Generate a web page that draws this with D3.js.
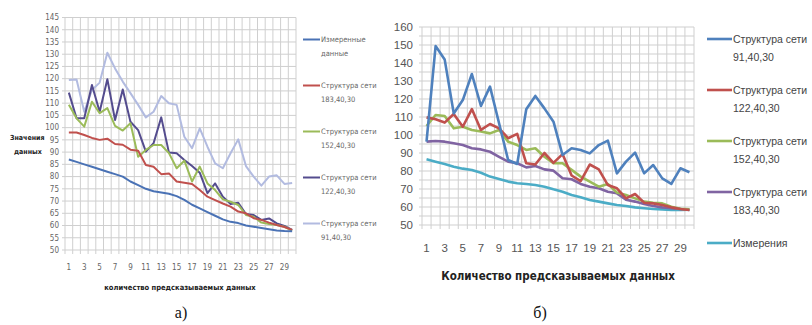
<!DOCTYPE html>
<html>
<head>
<meta charset="utf-8">
<script src="https://cdn.jsdelivr.net/npm/d3@7"></script>
<style>
  body { margin: 0; background: #fff; }
  svg { display: block; }
</style>
</head>
<body>
<svg id="chart" width="812" height="325"></svg>
<script>
// ---- data ----
const categories = [1,2,3,4,5,6,7,8,9,10,11,12,13,14,15,16,17,18,19,20,21,22,23,24,25,26,27,28,29,30];

// chart a)
const aMeasured = [87,86,85,84,83,82,81,80,78,76.5,75,74,73.5,73,72,70.5,68.5,67,65.5,64,62.5,61.5,61,60,59.5,59,58.5,58,57.8,57.7];
const a183 = [98,98,97,95.8,95,95.5,93.3,93,91,90.6,84.7,84,81,81.3,78,77.5,77,74.5,71.8,70.4,69,67.7,65.7,65,63,62.3,61.2,60.2,59.4,58.2];
const a152 = [109.3,103.8,100.4,110.6,105.9,108,100.7,98.8,101.8,88.1,90.9,92.9,92.9,89.6,83.4,86.5,78,84.1,77.2,74.5,70.7,69.7,68.4,64.3,63.6,61.2,60.6,60.2,59.5,57.9];
const a122 = [114.3,103.8,103.8,117.4,106.5,119.8,103.1,115.6,102.4,99,90.2,93.6,104.2,89.8,89.5,86.8,84.3,81.6,73.2,77.2,71.8,68.8,69.3,64.7,64.3,62.3,62.9,60.9,59.8,58.2];
const a91 = [119.5,119.7,106.5,115.4,118.4,130.6,124.2,118.8,114.1,109.3,104.2,106.5,112.9,110,109.3,96.3,91.6,99.7,92.2,85.4,83.4,89.5,95.2,84.3,80,76.3,80,80.5,77,77.4];
const aYTicks = [50,55,60,65,70,75,80,85,90,95,100,105,110,115,120,125,130,135,140,145];

// chart б)
const b91 = [96.3,149.4,142,112,119.4,133.9,116.1,126.9,106.5,86.1,83.9,114.3,121.7,114.8,107.4,88.9,92.6,91.7,89.8,94.4,96.9,78.7,85.2,90.2,78.7,83.3,75.9,72.8,81.5,79.3];
const b122 = [109.8,108.7,106.9,111.7,104.6,114.4,102.8,106.1,103.7,98.2,100.6,84.3,83.6,90,84.5,89.4,77.5,74.4,83.6,80.9,72.2,70.4,64.8,67.2,62.4,62,61.1,59.8,58.9,58.3];
const b152 = [105,111.1,110.6,103.7,104.6,102.8,101.9,100.9,102.8,96.3,94.4,91.7,92.6,87.9,84.3,84.3,80.6,76.9,74.1,71.3,72.8,68,66.7,64.8,63,62.4,62,60.2,59,58.7];
const b183 = [96.3,96.7,96.3,95.4,94.4,92.6,92,90.7,87.9,85.2,84.3,82,82.8,80.9,80.2,76,75.4,72.8,71.3,70.4,68.5,67.6,64,63,61.7,60.6,59.8,59.3,58.9,58.3];
const bMeasured = [86.5,85.2,83.9,82.4,81.3,80.6,79,76.9,75.6,74.1,73.2,72.8,72.2,71.3,69.8,68.5,66.7,65.4,63.9,63,62,61.1,60.6,59.8,59.3,58.9,58.7,58.3,58.3,58.5];
const bYTicks = [50,60,70,80,90,100,110,120,130,140,150,160];
const bYGrid = [55,65,75,85,95,105,115,125,135,145,155];

const xTickLabels = [1,3,5,7,9,11,13,15,17,19,21,23,25,27,29];

const svg = d3.select("#chart");

function drawChart(o) {
  const g = svg.append("g");
  const x = d3.scaleBand().domain(categories).range([o.left, o.right]).padding(0);
  const y = d3.scaleLinear().domain(o.yDomain).range([o.bottom, o.top]);
  const cx = c => x(c) + x.bandwidth() / 2;

  // horizontal grid
  g.append("g").selectAll("line")
    .data(o.yGrid)
    .join("line")
    .attr("x1", o.left - 3).attr("x2", o.right)
    .attr("y1", d => y(d)).attr("y2", d => y(d))
    .attr("stroke", "#cfcfcf").attr("stroke-width", 1);

  // vertical grid at category boundaries
  const bounds = categories.map(c => x(c)).concat([o.right]);
  g.append("g").selectAll("line")
    .data(bounds)
    .join("line")
    .attr("x1", d => d).attr("x2", d => d)
    .attr("y1", o.top).attr("y2", o.bottom + 4)
    .attr("stroke", "#cfcfcf").attr("stroke-width", 1);

  // y labels
  g.append("g").selectAll("text")
    .data(o.yTicks)
    .join("text")
    .attr("x", o.left - o.yLabelGap)
    .attr("y", d => y(d))
    .attr("dy", "0.35em")
    .attr("text-anchor", "end")
    .attr("font-family", o.tickFont)
    .attr("font-size", o.tickSize)
    .attr("fill", o.tickColor)
    .text(d => d);

  // x labels
  g.append("g").selectAll("text")
    .data(xTickLabels)
    .join("text")
    .attr("x", d => cx(d))
    .attr("y", o.xLabelY)
    .attr("text-anchor", "middle")
    .attr("font-family", o.tickFont)
    .attr("font-size", o.tickSize)
    .attr("fill", o.tickColor)
    .text(d => d);

  // lines
  const line = d3.line()
    .x((d, i) => cx(categories[i]))
    .y(d => y(d));

  g.append("g").selectAll("path")
    .data(o.series)
    .join("path")
    .attr("d", s => line(s.values))
    .attr("fill", "none")
    .attr("stroke", s => s.color)
    .attr("stroke-width", o.lineWidth)
    .attr("stroke-linejoin", "round");

  // x title
  g.append("text")
    .attr("x", o.xTitleX).attr("y", o.xTitleY)
    .attr("text-anchor", "middle")
    .attr("font-family", o.titleFont)
    .attr("font-size", o.titleSize)
    .attr("font-weight", "bold")
    .attr("fill", "#222")
    .text(o.xTitle);

  // legend
  const leg = g.append("g").selectAll("g")
    .data(o.legend)
    .join("g")
    .attr("transform", (d, i) => "translate(" + o.legX + "," + (o.legY + i * o.legStep) + ")");
  leg.append("line")
    .attr("x1", 0).attr("x2", o.legLine)
    .attr("y1", 0).attr("y2", 0)
    .attr("stroke", d => d.color)
    .attr("stroke-width", o.lineWidth);
  leg.append("text")
    .attr("x", o.legLine + 1)
    .attr("font-family", o.legFont)
    .attr("font-size", o.legSize)
    .attr("fill", o.legColor)
    .selectAll("tspan")
    .data(d => d.label)
    .join("tspan")
    .attr("x", o.legLine + 1)
    .attr("y", (d, i) => i * o.legLineH)
    .attr("dy", "0.35em")
    .text(d => d);
  return g;
}

// chart a)
const ga = drawChart({
  left: 65, right: 296, top: 17.5, bottom: 250,
  yDomain: [50, 145], yTicks: aYTicks, yGrid: aYTicks,
  yLabelGap: 6, xLabelY: 270,
  tickFont: "'Liberation Sans Narrow', 'DejaVu Sans Condensed', sans-serif", tickSize: 8, tickColor: "#666",
  lineWidth: 2,
  series: [
    { values: a91, color: "#b2bbe0" },
    { values: a122, color: "#544c8e" },
    { values: a152, color: "#9bbb59" },
    { values: a183, color: "#c0504d" },
    { values: aMeasured, color: "#4a72b5" }
  ],
  xTitle: "количество предсказываемых данных", xTitleX: 180, xTitleY: 290,
  titleFont: "'Liberation Sans Narrow', 'DejaVu Sans Condensed', sans-serif", titleSize: 7.5,
  legend: [
    { label: ["Измеренные", "данные"], color: "#4a72b5" },
    { label: ["Структура сети", "183,40,30"], color: "#c0504d" },
    { label: ["Структура сети", "152,40,30"], color: "#9bbb59" },
    { label: ["Структура сети", "122,40,30"], color: "#544c8e" },
    { label: ["Структура сети", "91,40,30"], color: "#b2bbe0" }
  ],
  legX: 303, legY: 39.5, legStep: 46, legLine: 17, legLineH: 13.5,
  legFont: "'Liberation Sans Narrow', 'DejaVu Sans Condensed', sans-serif", legSize: 7.5, legColor: "#666"
});

ga.append("text")
  .attr("x", 10).attr("y", 140)
  .attr("font-family", "'Liberation Sans Narrow', 'DejaVu Sans Condensed', sans-serif")
  .attr("font-size", 7).attr("font-weight", "bold").attr("fill", "#222")
  .text("Значения");
ga.append("text")
  .attr("x", 14).attr("y", 154)
  .attr("font-family", "'Liberation Sans Narrow', 'DejaVu Sans Condensed', sans-serif")
  .attr("font-size", 7).attr("font-weight", "bold").attr("fill", "#222")
  .text("данных");

// chart б)
drawChart({
  left: 422, right: 694, top: 27, bottom: 225,
  yDomain: [50, 160], yTicks: bYTicks, yGrid: bYTicks.concat(bYGrid),
  yLabelGap: 9, xLabelY: 252,
  tickFont: "'Liberation Sans', Arial, sans-serif", tickSize: 11.5, tickColor: "#555",
  lineWidth: 2.6,
  series: [
    { values: bMeasured, color: "#4bacc6" },
    { values: b183, color: "#8064a2" },
    { values: b152, color: "#9bbb59" },
    { values: b122, color: "#c0504d" },
    { values: b91, color: "#4f81bd" }
  ],
  xTitle: "Количество предсказываемых данных", xTitleX: 558, xTitleY: 280,
  titleFont: "'Liberation Sans Narrow', 'DejaVu Sans Condensed', sans-serif", titleSize: 11.5,
  legend: [
    { label: ["Структура сети", "91,40,30"], color: "#4f81bd" },
    { label: ["Структура сети", "122,40,30"], color: "#c0504d" },
    { label: ["Структура сети", "152,40,30"], color: "#9bbb59" },
    { label: ["Структура сети", "183,40,30"], color: "#8064a2" },
    { label: ["Измерения"], color: "#4bacc6" }
  ],
  legX: 707, legY: 39, legStep: 51, legLine: 25, legLineH: 18,
  legFont: "'Liberation Sans', Arial, sans-serif", legSize: 10.5, legColor: "#444"
});

// captions
svg.append("text")
  .attr("x", 181).attr("y", 318)
  .attr("text-anchor", "middle")
  .attr("font-family", "'Liberation Serif', 'Times New Roman', serif")
  .attr("font-size", 16).attr("fill", "#111")
  .text("а)");
svg.append("text")
  .attr("x", 540).attr("y", 318)
  .attr("text-anchor", "middle")
  .attr("font-family", "'Liberation Serif', 'Times New Roman', serif")
  .attr("font-size", 16).attr("fill", "#111")
  .text("б)");
</script>
</body>
</html>
